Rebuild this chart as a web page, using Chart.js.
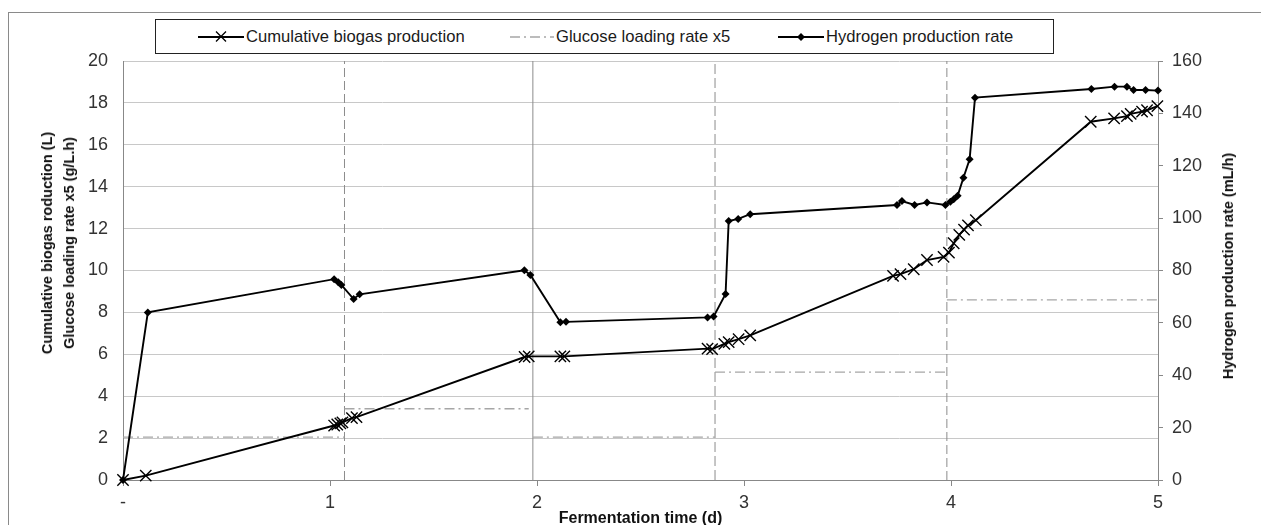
<!DOCTYPE html>
<html>
<head>
<meta charset="utf-8">
<title>Fermentation</title>
<script src="https://cdn.jsdelivr.net/npm/chart.js@4.4.1/dist/chart.umd.min.js"></script>
<style>
  html, body { margin: 0; padding: 0; background: #fff; overflow: hidden; }
  body { width: 1261px; height: 525px; position: relative; font-family: "Liberation Sans", Arial, sans-serif; }
  #frame { position: absolute; left: 8px; top: 12px; width: 1300px; height: 600px; border: 1px solid #8a8a8a; }
  #chart { position: absolute; left: 0; top: 0; }
  #legend { position: absolute; left: 155px; top: 19px; width: 897px; height: 33px; border: 1px solid #222; background: #fff; }
  .item { position: absolute; top: 0; height: 33px; display: flex; align-items: center; font-size: 16.6px; color: #1a1a1a; white-space: nowrap; }
  .item svg { margin-right: 2px; }
  .ytitle { position: absolute; font-weight: bold; font-size: 14.5px; color: #111; white-space: nowrap;
            text-align: center; line-height: 22px; transform: translate(-50%, -50%) rotate(-90deg); }
</style>
</head>
<body>
<div id="frame"></div>
<canvas id="chart" width="1261" height="525"></canvas>

<div id="legend">
  <div class="item" style="left:42px">
    <svg width="46" height="16"><line x1="0" y1="8" x2="46" y2="8" stroke="#000" stroke-width="1.8"/>
      <path d="M18 2.5 L28 12.5 M28 2.5 L18 12.5" stroke="#000" stroke-width="1.3"/></svg>
    <span>Cumulative biogas production</span>
  </div>
  <div class="item" style="left:354px">
    <svg width="44" height="16"><line x1="0" y1="8" x2="44" y2="8" stroke="#a6a6a6" stroke-width="1.3" stroke-dasharray="10 4 2 4"/></svg>
    <span>Glucose loading rate x5</span>
  </div>
  <div class="item" style="left:622px">
    <svg width="46" height="16"><line x1="0" y1="8" x2="46" y2="8" stroke="#000" stroke-width="1.8"/>
      <path d="M23 4 L27 8 L23 12 L19 8 Z" fill="#000"/></svg>
    <span>Hydrogen production rate</span>
  </div>
</div>

<div class="ytitle" style="left:58px; top:243px">Cumulative biogas roduction (L)<br>Glucose loading rate x5 (g/L.h)</div>
<div class="ytitle" style="left:1228px; top:266px">Hydrogen production rate (mL/h)</div>

<script>
// values
const biogasDays = [0, 0.11, 1.02, 1.035, 1.05, 1.06, 1.106, 1.128, 1.94, 1.96, 2.113, 2.132,
  2.824, 2.846, 2.905, 2.926, 2.974, 3.03, 3.72, 3.756, 3.82, 3.884, 3.964, 3.99, 4.013, 4.04,
  4.063, 4.082, 4.12, 4.675, 4.788, 4.85, 4.868, 4.923, 4.947, 4.997];
const biogasLitres = [0, 0.21, 2.6, 2.65, 2.7, 2.75, 2.95, 3.0, 5.87, 5.9, 5.9, 5.9,
  6.27, 6.25, 6.5, 6.58, 6.72, 6.9, 9.74, 9.83, 10.06, 10.5, 10.65, 10.85, 11.3, 11.7,
  11.95, 12.15, 12.4, 17.1, 17.26, 17.37, 17.48, 17.58, 17.65, 17.85];

const hydrogenDays = [0, 0.12, 1.02, 1.04, 1.055, 1.114, 1.143, 1.939, 1.968, 2.113, 2.14,
  2.824, 2.853, 2.911, 2.926, 2.972, 3.03, 3.739, 3.763, 3.824, 3.884, 3.973, 3.997, 4.013,
  4.032, 4.06, 4.09, 4.116, 4.678, 4.79, 4.85, 4.882, 4.94, 5.0];
const hydrogenRate = [0, 64, 76.7, 75.5, 74.5, 69.1, 70.9, 80.1, 78.3, 60.2, 60.4,
  62.1, 62.4, 71.0, 98.9, 99.7, 101.5, 105, 106.5, 105, 106, 105, 106.3, 107.2,
  108.5, 115.4, 122.5, 146, 149.3, 150.2, 150.2, 148.9, 148.9, 148.7];

const glucoseStart = [0, 1.07, 1.98, 2.86, 3.98];
const glucoseEnd = [1.07, 1.96, 2.86, 3.98, 5];
const glucoseLoad = [2.05, 3.4, 2.05, 5.15, 8.6];

const phaseDays = [1.07, 1.98, 2.86, 3.98];

const xTicks = [0, 1, 2, 3, 4, 5];
const xTickLabels = ["-", "1", "2", "3", "4", "5"];

// line styles for the phase markers
const phaseDash = [[9, 4], [], [10, 4], [9, 4]];

function zip(xs, ys) {
  return xs.map((x, i) => ({ x, y: ys[i] }));
}

function glucoseSteps() {
  const pts = [];
  glucoseStart.forEach((s, i) => {
    if (i > 0) pts.push({ x: s, y: null });
    pts.push({ x: s, y: glucoseLoad[i] });
    pts.push({ x: glucoseEnd[i], y: glucoseLoad[i] });
  });
  return pts;
}

const phaseSets = phaseDays.map((d, i) => ({
  label: "phase " + (i + 1),
  data: [{ x: d, y: 0 }, { x: d, y: 20 }],
  yAxisID: "y",
  borderColor: "#8c8c8c",
  borderWidth: 1,
  borderDash: phaseDash[i],
  pointRadius: 0,
  order: 10,
}));

const tickFont = { family: "'Liberation Sans', Arial, sans-serif", size: 18 };

new Chart(document.getElementById("chart"), {
  type: "line",
  data: {
    datasets: [
      {
        label: "Hydrogen production rate",
        data: zip(hydrogenDays, hydrogenRate),
        yAxisID: "y2",
        borderColor: "#000",
        borderWidth: 1.9,
        pointStyle: "rectRot",
        pointRadius: 4,
        pointBackgroundColor: "#000",
        pointBorderColor: "#000",
        pointBorderWidth: 0,
        clip: false,
        order: 1,
      },
      {
        label: "Cumulative biogas production",
        data: zip(biogasDays, biogasLitres),
        yAxisID: "y",
        borderColor: "#000",
        borderWidth: 1.9,
        pointStyle: "crossRot",
        pointRadius: 8,
        pointBorderColor: "#000",
        pointBorderWidth: 1.4,
        clip: false,
        order: 2,
      },
      {
        label: "Glucose loading rate x5",
        data: glucoseSteps(),
        yAxisID: "y",
        borderColor: "#a6a6a6",
        borderWidth: 1.3,
        borderDash: [10, 4, 2, 4],
        pointRadius: 0,
        spanGaps: false,
        order: 3,
      },
      ...phaseSets,
    ],
  },
  options: {
    responsive: false,
    animation: false,
    layout: { padding: { top: 61, left: 0, right: 0, bottom: 0 } },
    plugins: { legend: { display: false }, tooltip: { enabled: false } },
    scales: {
      x: {
        type: "linear",
        min: 0,
        max: 5,
        afterFit: (s) => { s.height = 45; },
        afterBuildTicks: (s) => { s.ticks = xTicks.map((v) => ({ value: v })); },
        ticks: {
          font: tickFont,
          color: "#333",
          padding: 6,
          maxRotation: 0,
          callback: (v) => xTickLabels[xTicks.indexOf(v)] ?? "",
        },
        grid: { display: true, drawOnChartArea: false, drawTicks: true, tickLength: 6, color: "#888" },
        border: { color: "#888" },
        title: {
          display: true,
          text: "Fermentation time (d)",
          color: "#111",
          font: { family: "'Liberation Sans', Arial, sans-serif", size: 16, weight: "bold" },
          padding: { top: 0, bottom: -3 },
        },
      },
      y: {
        position: "left",
        min: 0,
        max: 20,
        afterFit: (s) => { s.width = 123; },
        ticks: { stepSize: 2, font: tickFont, color: "#333", padding: 15 },
        grid: { color: "#c8c8c8", drawTicks: false },
        border: { color: "#888" },
      },
      y2: {
        position: "right",
        min: 0,
        max: 160,
        afterFit: (s) => { s.width = 103; },
        ticks: { stepSize: 20, font: tickFont, color: "#333", padding: 9 },
        grid: { display: true, drawOnChartArea: false, drawTicks: true, tickLength: 5, color: "#888" },
        border: { color: "#888" },
      },
    },
  },
});
</script>
</body>
</html>
